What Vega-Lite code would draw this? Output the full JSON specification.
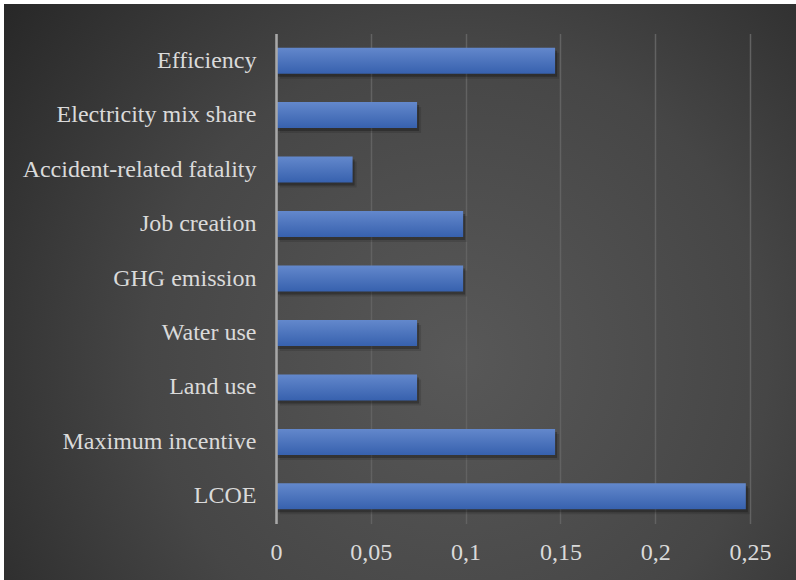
{
  "$schema": "https://vega.github.io/schema/vega-lite/v6.json",
  "width": 796,
  "height": 580,
  "autosize": {"type": "none"},
  "padding": {"left": 4, "top": 4, "right": 0, "bottom": 0},
  "background": "#ffffff",
  "config": {
    "font": "Liberation Serif",
    "locale": {
      "number": {"decimal": ",", "thousands": ".", "grouping": [3], "currency": ["", " €"]}
    },
    "view": {
      "stroke": null,
      "fill": {
        "gradient": "radial",
        "x1": 0.57, "y1": 0.58, "r1": 0,
        "x2": 0.57, "y2": 0.58, "r2": 0.78,
        "stops": [
          {"offset": 0, "color": "#585858"},
          {"offset": 0.5, "color": "#464646"},
          {"offset": 1, "color": "#222222"}
        ]
      }
    }
  },
  "data": {
    "values": [
      {"criterion": "Efficiency", "weight": 0.1472},
      {"criterion": "Electricity mix share", "weight": 0.0744},
      {"criterion": "Accident-related fatality", "weight": 0.0404},
      {"criterion": "Job creation", "weight": 0.0987},
      {"criterion": "GHG emission", "weight": 0.0987},
      {"criterion": "Water use", "weight": 0.0744},
      {"criterion": "Land use", "weight": 0.0744},
      {"criterion": "Maximum incentive", "weight": 0.1472},
      {"criterion": "LCOE", "weight": 0.2478}
    ]
  },
  "encoding": {
    "y": {
      "field": "criterion",
      "type": "nominal",
      "sort": null,
      "scale": {"range": [29.5, 519.5], "paddingInner": 0.523, "paddingOuter": 0.26},
      "axis": {
        "title": null,
        "offset": -272,
        "domainColor": "#a8a8a8",
        "domainWidth": 2.5,
        "ticks": false,
        "tickSize": 0,
        "labelPadding": 20,
        "labelFontSize": 24,
        "labelColor": "#dadada",
        "labelFont": "Liberation Serif",
        "labelLimit": 400,
        "grid": false,
        "zindex": 1
      }
    },
    "x": {
      "field": "weight",
      "type": "quantitative",
      "scale": {"domain": [0, 0.25], "range": [272, 746], "nice": false},
      "axis": {
        "orient": "top",
        "title": null,
        "offset": -519.5,
        "domain": false,
        "ticks": false,
        "tickSize": 0,
        "values": [0, 0.05, 0.1, 0.15, 0.2, 0.25],
        "format": "~g",
        "labelFlush": false,
        "labelOverlap": false,
        "labelPadding": -36,
        "labelBaseline": "alphabetic",
        "labelFontSize": 24,
        "labelColor": "#dadada",
        "labelFont": "Liberation Serif",
        "grid": true,
        "gridColor": "#626262",
        "gridWidth": 1.5,
        "zindex": 0
      }
    }
  },
  "layer": [
    {"mark": {"type": "bar", "color": "#000000", "opacity": 0.12, "xOffset": 4, "yOffset": 5}},
    {"mark": {"type": "bar", "color": "#000000", "opacity": 0.25, "xOffset": 2, "yOffset": 3}},
    {
      "mark": {
        "type": "bar",
        "fill": {
          "gradient": "linear",
          "x1": 0, "y1": 0, "x2": 0, "y2": 1,
          "stops": [
            {"offset": 0, "color": "#6388cc"},
            {"offset": 1, "color": "#3761ae"}
          ]
        }
      }
    }
  ]
}
